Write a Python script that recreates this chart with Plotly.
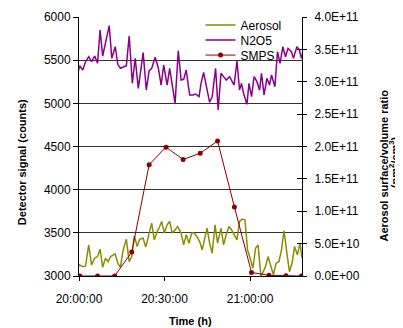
import plotly.graph_objects as go
from datetime import datetime, timedelta

# ---- data (minutes after 20:00:00) ----
n2o5_min = [-0.8, 0.2, 1.3, 2.3, 3.4, 4.4, 5.5, 6.5, 7.4, 8.3, 10.6, 11.5, 12.7, 13.6, 14.5,
            15.7, 16.6, 17.6, 18.7, 19.7, 20.8, 22.5, 23.6, 24.6, 25.5, 26.7, 27.8, 28.8,
            29.7, 30.9, 31.8, 33.7, 34.8, 35.8, 36.7, 37.6, 38.8, 40.0, 40.9, 42.1, 42.8,
            43.7, 44.6, 45.8, 46.7, 47.9, 48.8, 49.8, 50.7, 51.6, 52.8, 54.4, 55.4, 56.3,
            57.0, 57.7, 58.9, 59.6, 60.5, 61.4, 62.4, 63.3, 64.0, 64.9, 65.9, 66.8, 67.5,
            68.7, 69.6, 70.5, 71.5, 72.4, 73.3, 74.5, 75.2, 76.4, 77.3, 78.0, 78.6]
n2o5_val = [5282, 5436, 5386, 5482, 5540, 5482, 5548, 5464, 5850, 5548, 5900, 5521, 5656, 5452,
            5406, 5425, 5436, 5780, 5232, 5521, 5174, 5587, 5154, 5378, 5406, 5533, 5413, 5212,
            5444, 5212, 5406, 5000, 5610, 5270, 5278, 5386, 5097, 5097, 5108, 5077, 5232, 5359,
            5193, 5012, 5077, 5406, 4923, 5348, 5309, 5270, 5309, 5212, 5490, 5154, 5232, 5116,
            4988, 5232, 5077, 5309, 5251, 5154, 5348, 5097, 5290, 5212, 5328, 5193, 5598, 5464,
            5656, 5540, 5637, 5598, 5521, 5656, 5618, 5521, 5618]

aerosol_min = [-0.8, 0.2, 1.3, 2.3, 3.4, 4.4, 5.5, 6.5, 7.4, 8.3, 9.3, 10.2, 11.1, 12.7, 13.6,
               14.5, 15.5, 16.6, 17.6, 18.5, 19.4, 20.4, 21.3, 22.5, 23.4, 24.3, 25.5, 26.4,
               27.4, 28.3, 29.0, 29.9, 30.9, 31.8, 32.7, 33.7, 34.6, 35.8, 36.7, 37.6, 38.6,
               39.5, 40.4, 41.4, 42.3, 43.2, 44.2, 44.9, 45.8, 46.7, 47.7, 48.6, 49.8, 50.7,
               51.6, 52.6, 53.5, 54.4, 55.4, 56.3, 57.2, 58.2, 59.1, 60.0, 61.0, 61.9, 62.8,
               63.8, 65.4, 66.3, 67.3, 68.2, 69.1, 70.1, 71.0, 71.9, 72.9, 73.8, 74.7, 75.6,
               76.6, 77.5, 78.2]
aerosol_val = [3090, 3128, 3108, 3116, 3360, 3128, 3206, 3225, 3311, 3101, 3206, 3166, 3225, 3256,
               3148, 3101, 3302, 3427, 3166, 3225, 3465, 3341, 3427, 3438, 3334, 3465, 3613, 3419,
               3515, 3573, 3632, 3497, 3593, 3632, 3497, 3535, 3573, 3497, 3361, 3477, 3380, 3497,
               3497, 3457, 3399, 3302, 3477, 3555, 3380, 3264, 3593, 3380, 3555, 3361, 3477, 3573,
               3535, 3477, 3419, 3632, 3659, 3651, 3302, 3206, 3090, 3322, 3361, 2992, 3108, 3225,
               3108, 3012, 3148, 3166, 3302, 3527, 3264, 3050, 3148, 3341, 3244, 3380, 3206]

smps_min = [0.3, 6.5, 12.5, 18.5, 24.6, 30.5, 36.5, 42.5, 48.6, 54.5, 60.5, 66.6, 72.6, 78.0]
smps_val = [0.0, 0.0, 0.0, 3.7e10, 1.72e11, 1.99e11, 1.80e11, 1.895e11, 2.085e11, 1.066e11,
            5.4e9, 1.0e9, 0.5e9, 0.0]

left_ticks = [3000, 3500, 4000, 4500, 5000, 5500, 6000]
right_ticks = [0, 5e10, 1e11, 1.5e11, 2e11, 2.5e11, 3e11, 3.5e11, 4e11]
right_labels = [f"{v:.1E}" for v in right_ticks]

base = datetime(2000, 1, 1, 20, 0, 0)
def to_time(mins):
    return [base + timedelta(minutes=m) for m in mins]

FONT = "Liberation Sans, Arial, sans-serif"

fig = go.Figure()
fig.add_trace(go.Scatter(x=to_time(aerosol_min), y=aerosol_val, name="Aerosol", mode="lines",
                         line=dict(color="#8c8c00", width=1.5), yaxis="y", legend="legend"))
fig.add_trace(go.Scatter(x=to_time(n2o5_min), y=n2o5_val, name="N2O5", mode="lines",
                         line=dict(color="#8b008b", width=1.5), yaxis="y", legend="legend2"))
fig.add_trace(go.Scatter(x=to_time(smps_min), y=smps_val, name="SMPS", mode="lines+markers",
                         line=dict(color="#8b0000", width=1), marker=dict(size=5, color="#8b0000"),
                         yaxis="y2", legend="legend3"))
# helper trace for the inner half of the right-axis cross ticks
fig.add_trace(go.Scatter(x=[base], y=[0], mode="markers", marker=dict(opacity=0),
                         showlegend=False, hoverinfo="skip", yaxis="y3"))

def leg(y):
    return dict(x=0.545, y=y, xanchor="left", yanchor="middle", bgcolor="rgba(0,0,0,0)",
                font=dict(size=12, color="black"), itemwidth=30)

# page body has an 8px margin, so the figure is made 8px smaller on each axis
fig.update_layout(
    width=395, height=320,
    margin=dict(l=71, r=101, t=9, b=52, autoexpand=False),
    paper_bgcolor="white", plot_bgcolor="white",
    font=dict(family=FONT, size=12, color="black"),
    showlegend=True,
    legend=leg(0.969), legend2=leg(0.911), legend3=leg(0.853),
    xaxis=dict(type="date", range=[base, base + timedelta(minutes=78.2)],
               tick0=base, dtick=1800000, tickformat="%H:%M:%S",
               ticks="outside", ticklen=4, tickcolor="black", ticklabelstandoff=8,
               showline=True, linecolor="black", linewidth=1, showgrid=False, zeroline=False,
               tickfont=dict(size=12)),
    yaxis=dict(range=[3000, 6000], tickvals=left_ticks, ticks="outside", ticklen=5,
               tickcolor="black", showline=True, linecolor="black", linewidth=1,
               showgrid=True, gridcolor="#333333", gridwidth=1, zeroline=False,
               tickfont=dict(size=12)),
    yaxis2=dict(range=[0, 4e11], overlaying="y", side="right", tickvals=right_ticks,
                ticktext=right_labels, ticks="outside", ticklen=4, tickcolor="black",
                ticklabelstandoff=5,
                showline=True, linecolor="black", linewidth=1, showgrid=False, zeroline=False,
                tickfont=dict(size=12)),
    yaxis3=dict(range=[0, 4e11], overlaying="y", side="right", tickvals=right_ticks,
                ticks="inside", ticklen=5, tickcolor="black", showticklabels=False,
                showline=False, showgrid=False, zeroline=False),
)

fig.add_annotation(text="<b>Detector signal (counts)</b>", xref="paper", yref="paper",
                   x=-0.255, y=0.44, xanchor="center", yanchor="middle", textangle=-90,
                   showarrow=False, font=dict(size=11, family=FONT))
fig.add_annotation(text="<b>Aerosol surface/volume ratio</b>", xref="paper", yref="paper",
                   x=1.366, y=0.425, xanchor="center", yanchor="middle", textangle=-90,
                   showarrow=False, font=dict(size=11, family=FONT))
fig.add_annotation(text="<b>(nm<sup>2</sup>/cm<sup>3</sup>)</b>", xref="paper", yref="paper",
                   x=1.413, y=0.44, xanchor="center", yanchor="middle", textangle=-90,
                   showarrow=False, font=dict(size=11, family=FONT))
fig.add_annotation(text="<b>Time (h)</b>", xref="paper", yref="paper",
                   x=0.5, y=-0.175, xanchor="center", yanchor="middle",
                   showarrow=False, font=dict(size=11, family=FONT))

fig.write_html("out.html")
